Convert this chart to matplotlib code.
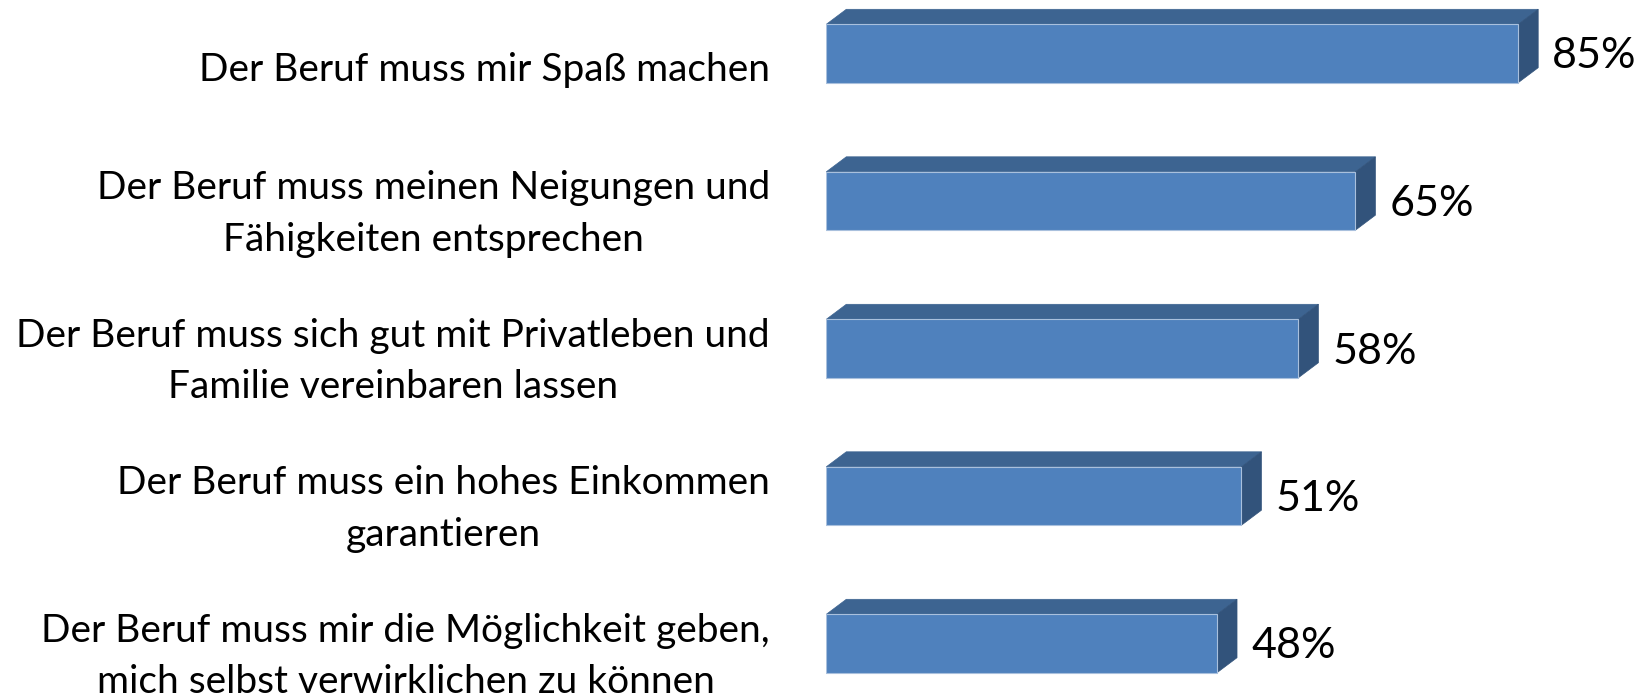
import matplotlib.pyplot as plt
from matplotlib.patches import Polygon

# data
labels = [
    "Der Beruf muss mir Spaß machen",
    "Der Beruf muss meinen Neigungen und\nFähigkeiten entsprechen",
    "Der Beruf muss sich gut mit Privatleben und\nFamilie vereinbaren lassen",
    "Der Beruf muss ein hohes Einkommen\ngarantieren",
    "Der Beruf muss mir die Möglichkeit geben,\nmich selbst verwirklichen zu können",
]
values = [85, 65, 58, 51, 48]

FRONT = "#4F81BD"
TOP = "#3D6491"
SIDE = "#32537B"
EDGE = "#A9C0DD"

W, H, DPI = 16.47, 6.99, 100
PX_PER_UNIT = 8.14       # pixels per percent
ROW_PX = 147.5           # pixels between bars
LEFT_PX = 826.3          # where 0% sits

plt.rcParams["font.family"] = ["Lato", "DejaVu Sans"]

fig = plt.figure(figsize=(W, H), dpi=DPI)
ax = fig.add_axes([LEFT_PX / (W * DPI), 0, 1 - LEFT_PX / (W * DPI), 1])
ax.set_xlim(0, (W * DPI - LEFT_PX) / PX_PER_UNIT)
top = -53.5 / ROW_PX
ax.set_ylim(top + H * DPI / ROW_PX, top)
ax.axis("off")

bar_h = 58.4 / ROW_PX
dx = 20 / PX_PER_UNIT
dy = 15 / ROW_PX

for i, (lab, v) in enumerate(zip(labels, values)):
    y0 = i - bar_h / 2
    y1 = i + bar_h / 2
    # top face
    ax.add_patch(Polygon([(0, y0), (v, y0), (v + dx, y0 - dy), (dx, y0 - dy)],
                         closed=True, facecolor=TOP, edgecolor=TOP, lw=0.5))
    # side face
    ax.add_patch(Polygon([(v, y0), (v + dx, y0 - dy), (v + dx, y1 - dy), (v, y1)],
                         closed=True, facecolor=SIDE, edgecolor=SIDE, lw=0.5))
    # front face
    ax.barh(i, v, height=bar_h, color=FRONT, edgecolor=EDGE, linewidth=0.8)

    ax.text(v + dx + 14 / PX_PER_UNIT, i + 3 / ROW_PX, f"{v}%",
            ha="left", va="center", fontsize=31, color="black")
    off = 16 if "\n" not in lab else 13
    ax.text(-56.3 / PX_PER_UNIT, i + off / ROW_PX, lab, ha="right", va="center",
            multialignment="center", fontsize=28, linespacing=1.55,
            color="black", clip_on=False)

fig.savefig("out.png", dpi=DPI)
